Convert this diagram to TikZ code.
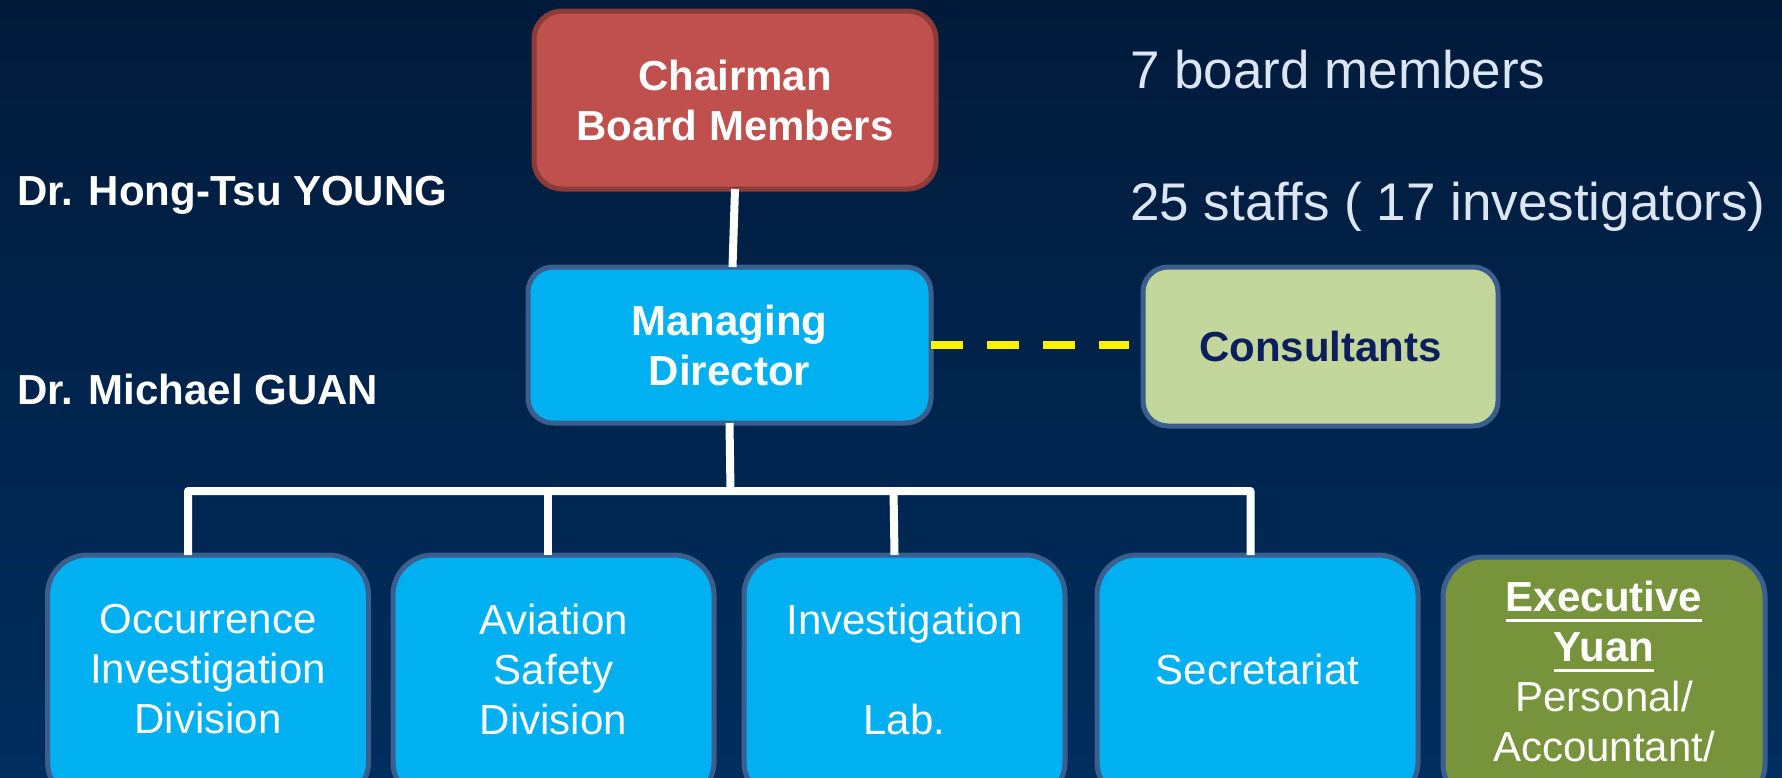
\documentclass[tikz,border=0pt]{standalone}
\usepackage{fontspec}
\setmainfont{Liberation Sans}
\usetikzlibrary{calc}
\definecolor{bgtop}{RGB}{1,26,58}
\definecolor{bgbot}{RGB}{0,46,94}
\definecolor{bord}{RGB}{58,95,142}
\definecolor{redfill}{RGB}{192,80,77}
\definecolor{redbord}{RGB}{140,59,56}
\definecolor{cyanfill}{RGB}{0,176,240}
\definecolor{consfill}{RGB}{195,214,155}
\definecolor{greenfill}{RGB}{119,147,60}
\definecolor{navytext}{RGB}{12,30,94}
\definecolor{lighttext}{RGB}{220,230,242}
\newcommand\myul[1]{\setbox0\hbox{#1}\rlap{\rule[-11pt]{\wd0}{3pt}}\box0}
\tikzset{
  box/.style={draw=bord, line width=5pt, inner sep=0pt, outer sep=0pt, align=center,
    text=white, font=\fontsize{42}{50}\selectfont},
  topbox/.style={box, rounded corners=28pt},
  lowbox/.style={box, fill=cyanfill, rounded corners=40pt, minimum width=321pt,
    minimum height=247pt, anchor=north},
  boxtext/.style={inner sep=0pt, align=center, text=white, font=\fontsize{42}{50}\selectfont},
  conn/.style={draw=white, line width=8pt},
  dashconn/.style={draw=yellow, line width=8pt, dash pattern=on 32pt off 24pt},
  side/.style={anchor=base west, text=white, font=\fontsize{42}{50}\selectfont\bfseries, inner sep=0pt},
  note/.style={anchor=base west, text=lighttext, font=\fontsize{53}{60}\selectfont, inner sep=0pt}
}
\begin{document}
\begin{tikzpicture}[x=1pt,y=-1pt]
\useasboundingbox (0,0) rectangle (1782,777);
\clip (0,0) rectangle (1782,777);
\shade[top color=bgtop, bottom color=bgbot] (0,0) rectangle (1782,777);

\node[topbox, draw=redbord, fill=redfill, minimum width=402pt, minimum height=178pt,
  font=\fontsize{42}{50}\selectfont\bfseries] (chair) at (735,100) {Chairman\\Board Members};
\node[topbox, fill=cyanfill, rounded corners=25pt, minimum width=403pt, minimum height=156pt,
  font=\fontsize{42}{50}\selectfont\bfseries] (md) at (729.5,345) {Managing\\Director};
\node[topbox, fill=consfill, rounded corners=25pt, minimum width=355pt, minimum height=159pt,
  text=navytext, font=\fontsize{42}{50}\selectfont\bfseries] (cons) at (1320.5,346.5) {Consultants};

\node[lowbox] (oid) at (208,555) {};
\node[lowbox] (asd) at (553.5,555) {};
\node[lowbox] (lab) at (904.5,555) {};
\node[lowbox] (sec) at (1257.5,555) {};
\node[lowbox, fill=greenfill, minimum width=322pt] (ey) at (1604,557) {};

\node[boxtext] (oidt) at ($(oid.north)+(0,114)$) {Occurrence\\Investigation\\Division};
\node[boxtext] (asdt) at ($(asd.north)+(0,114)$) {Aviation\\Safety\\Division};
\node[boxtext] (labt) at ($(lab.north)+(0,114)$) {Investigation\\[50pt]Lab.};
\node[boxtext] (sect) at ($(sec.north)+(0,114)$) {Secretariat};
\node[boxtext] (eyt) at ($(ey.north)+(0,114)$)
  {\bfseries\myul{Executive}\\\bfseries\myul{Yuan}\\Personal/\\Accountant/};

\node[side] (young) at (17,205) {Dr. Hong-Tsu YOUNG};
\node[side] (guan) at (17,404) {Dr. Michael GUAN};
\node[note] (n1) at (1130,88) {7 board members};
\node[note] (n2) at (1130,220) {25 staffs ( 17 investigators)};

\draw[conn] (chair.south) -- ($(md.north)+(3,0)$);
\coordinate (busmid) at ($(md.south)+(1,68)$);
\draw[conn, line join=round] (md.south) -- (busmid)
  (busmid) -| ($(oid.north)+(-20,0)$)
  (busmid) -| ($(sec.north)+(-7,0)$);
\draw[conn] ($(asd.north)+(-6,-65)$) -- ($(asd.north)+(-6,0)$);
\draw[conn] ($(lab.north)+(-11,-65)$) -- ($(lab.north)+(-10,0)$);
\draw[dashconn] (md.east) -- ($(md.east -| cons.west)+(-14,0)$);
\end{tikzpicture}
\end{document}
